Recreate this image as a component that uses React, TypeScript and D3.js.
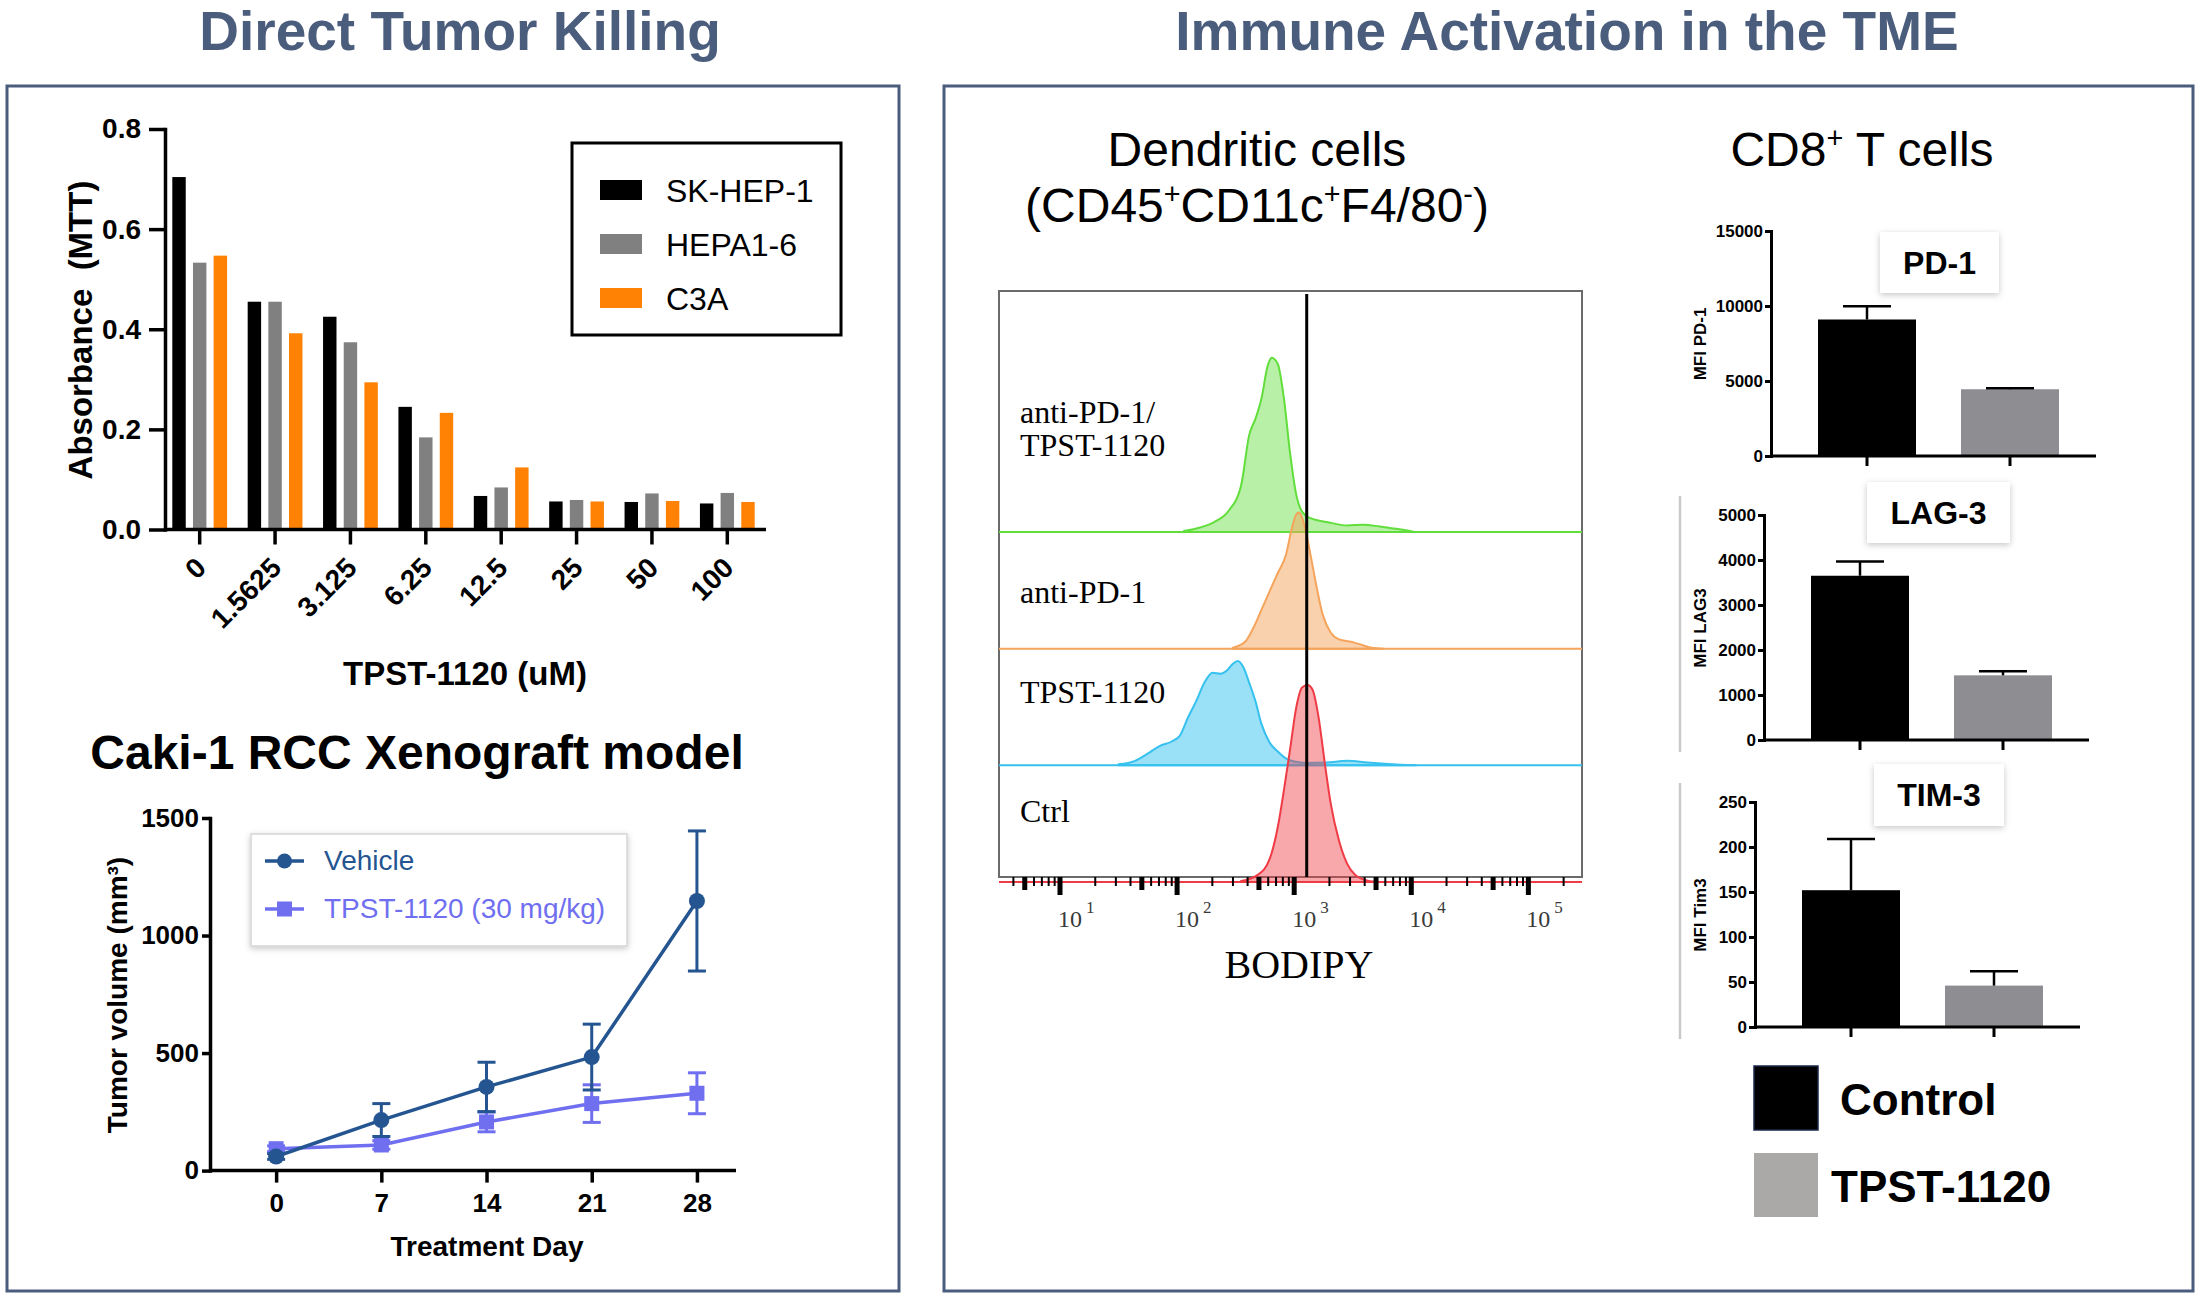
import React, { useEffect, useRef } from "react";
import * as d3 from "d3";

const W = 2200;
const H = 1299;
const SANS = "'Liberation Sans', Arial, Helvetica, sans-serif";
const SERIF = "'Liberation Serif', 'Times New Roman', serif";
const SLATE = "#4b5d7c";

// --- MTT assay (top left) ---
const concentrations = ["0", "1.5625", "3.125", "6.25", "12.5", "25", "50", "100"];
const cellLines = ["SK-HEP-1", "HEPA1-6", "C3A"];
const cellLineColors = ["#000000", "#808080", "#ff8205"];
const skHep1 = [0.704, 0.455, 0.425, 0.245, 0.067, 0.056, 0.055, 0.052];
const hepa16 = [0.533, 0.455, 0.374, 0.184, 0.084, 0.059, 0.072, 0.073];
const c3a = [0.547, 0.392, 0.294, 0.233, 0.124, 0.056, 0.057, 0.055];
const mttTicks = [0, 0.2, 0.4, 0.6, 0.8];

// --- Caki-1 xenograft (bottom left) ---
const days = [0, 7, 14, 21, 28];
const vehicleMean = [60, 215, 356, 483, 1147];
const vehicleSem = [12, 70, 105, 140, 298];
const tpstMean = [93, 109, 207, 285, 329];
const tpstSem = [12, 18, 42, 80, 87];
const volumeTicks = [0, 500, 1000, 1500];

// --- BODIPY histograms: [log10 intensity, normalised count] ---
const flowSamples = ["anti-PD-1/TPST-1120", "anti-PD-1", "TPST-1120", "Ctrl"];
const comboHist: [number, number][] = [
  [2.059, 0.5], [2.198, 2.3], [2.32, 5.1], [2.442, 10.9], [2.547, 23.7], [2.616, 49.3],
  [2.669, 57.4], [2.721, 67.9], [2.773, 84.2], [2.808, 88.4], [2.86, 85.3], [2.912, 67.9],
  [2.965, 40], [3.017, 19.1], [3.069, 10.2], [3.139, 7], [3.278, 5.1], [3.452, 3.3],
  [3.592, 3.7], [3.731, 2.8], [3.87, 1.6], [4.01, 0.2],
];
const antiPd1Hist: [number, number][] = [
  [2.477, 0.5], [2.581, 3.5], [2.651, 10.5], [2.721, 19.8], [2.79, 29.1], [2.86, 38.4],
  [2.93, 47.7], [2.982, 61.6], [3.017, 68.1], [3.041, 69.1], [3.087, 62.8], [3.139, 47.7],
  [3.191, 31.4], [3.243, 17.4], [3.313, 8.1], [3.383, 4.7], [3.487, 3.5], [3.557, 2.3],
  [3.661, 0.5], [3.766, 0],
];
const tpstHist: [number, number][] = [
  [1.501, 0.5], [1.641, 2.3], [1.745, 5.8], [1.85, 9.8], [1.954, 12.1], [2.024, 15.1],
  [2.094, 24.4], [2.163, 32.6], [2.233, 41.9], [2.303, 47], [2.372, 46.5], [2.425, 48.1],
  [2.477, 51.6], [2.519, 53], [2.564, 50], [2.616, 41.9], [2.669, 32.6], [2.721, 20.9],
  [2.79, 11.6], [2.86, 7], [2.93, 3.5], [3.0, 1.9], [3.104, 1.2], [3.278, 1.4],
  [3.452, 2.3], [3.627, 1.4], [3.801, 0.7], [4.045, 0],
];
const ctrlHist: [number, number][] = [
  [2.547, 0.5], [2.686, 3.5], [2.79, 11.6], [2.86, 27.9], [2.912, 46.5], [2.965, 67.4],
  [3.017, 88.4], [3.069, 98.8], [3.114, 100], [3.156, 97.7], [3.208, 83.7], [3.261, 60.5],
  [3.313, 39.5], [3.383, 20.9], [3.452, 9.3], [3.522, 3.5], [3.627, 0.7], [3.731, 0],
];
const flowStroke = ["#62de3c", "#f5a45c", "#36c1ef", "#ef3b45"];
const flowFill = ["rgba(98,222,60,0.45)", "rgba(245,164,92,0.5)", "rgba(54,193,239,0.5)", "rgba(239,59,69,0.45)"];
const bodipyGate = 3.107; // log10 position of the black reference line
const decades = [1, 2, 3, 4, 5];

// --- CD8+ T cell MFI bars (right) ---
const groups = ["Control", "TPST-1120"];
const groupColors = ["#000000", "#8e8d92"];
const pd1Mean = [9100, 4450];
const pd1Err = [890, 70];
const lag3Mean = [3650, 1437];
const lag3Err = [315, 90];
const tim3Mean = [152, 46];
const tim3Err = [57, 16];
const pd1Ticks = [0, 5000, 10000, 15000];
const lag3Ticks = [0, 1000, 2000, 3000, 4000, 5000];
const tim3Ticks = [0, 50, 100, 150, 200, 250];

function styleAxis(sel: any, fontSize: number, weight = "bold", width = 3.5) {
  sel.attr("font-family", SANS).attr("font-size", fontSize).attr("font-weight", weight);
  sel.selectAll("path.domain, .tick line").attr("stroke", "#000").attr("stroke-width", width);
  sel.select("path.domain").attr("stroke-linecap", "square");
  sel.selectAll(".tick text").attr("fill", "#000");
}

function drawMtt(svg: any) {
  const g = svg.append("g");
  const x = d3.scaleBand<string>().domain(concentrations).range([162, 765]);
  const xs = d3.scaleBand<string>().domain(cellLines).range([-31, 31]).paddingInner(0.35).paddingOuter(0.175);
  const y = d3.scaleLinear().domain([0, 0.8]).range([529.5, 129]);

  [skHep1, hepa16, c3a].forEach((vals, si) => {
    g.append("g")
      .selectAll("rect")
      .data(vals)
      .enter()
      .append("rect")
      .attr("x", (_d: number, i: number) => x(concentrations[i])! + x.bandwidth() / 2 + xs(cellLines[si])!)
      .attr("y", (d: number) => y(d))
      .attr("width", xs.bandwidth())
      .attr("height", (d: number) => y(0) - y(d))
      .attr("fill", cellLineColors[si]);
  });

  const ya = g.append("g").attr("transform", "translate(165,0)")
    .call(d3.axisLeft(y).tickValues(mttTicks).tickFormat(d3.format(".1f")).tickSize(16).tickPadding(8).tickSizeOuter(0));
  styleAxis(ya, 28);

  const xa = g.append("g").attr("transform", `translate(0,${y(0)})`)
    .call(d3.axisBottom(x).tickSize(15).tickSizeOuter(0));
  xa.select(".domain").remove();
  styleAxis(xa, 28);
  xa.selectAll(".tick text")
    .attr("x", 0).attr("y", 0).attr("dy", null)
    .attr("text-anchor", "end")
    .attr("transform", "translate(8,40) rotate(-45)");
  g.append("line").attr("x1", 165).attr("x2", 766).attr("y1", y(0)).attr("y2", y(0))
    .attr("stroke", "#000").attr("stroke-width", 3.5);

  g.append("text").attr("x", 465).attr("y", 685).attr("text-anchor", "middle")
    .attr("font-family", SANS).attr("font-weight", "bold").attr("font-size", 33).text("TPST-1120 (uM)");
  g.append("text").attr("transform", "translate(92,330) rotate(-90)").attr("text-anchor", "middle")
    .attr("font-family", SANS).attr("font-weight", "bold").attr("font-size", 33)
    .style("white-space", "pre").text("Absorbance  (MTT)");

  // legend
  g.append("rect").attr("x", 572).attr("y", 143).attr("width", 269).attr("height", 192)
    .attr("fill", "#fff").attr("stroke", "#000").attr("stroke-width", 3);
  const leg = g.selectAll("g.leg").data(cellLines).enter().append("g")
    .attr("transform", (_d: string, i: number) => `translate(600,${180 + i * 54})`);
  leg.append("rect").attr("width", 42).attr("height", 20).attr("fill", (_d: string, i: number) => cellLineColors[i]);
  leg.append("text").attr("x", 66).attr("y", 22).attr("font-family", SANS).attr("font-size", 32)
    .text((d: string) => d);
}

function drawXenograft(svg: any) {
  const g = svg.append("g");
  const x = d3.scaleLinear().domain([-4.4, 30.6]).range([210, 736]);
  const y = d3.scaleLinear().domain([0, 1500]).range([1170.6, 818]);

  g.append("text").attr("x", 417).attr("y", 769).attr("text-anchor", "middle")
    .attr("font-family", SANS).attr("font-weight", "bold").attr("font-size", 48).text("Caki-1 RCC Xenograft model");

  const ya = g.append("g").attr("transform", "translate(210,0)")
    .call(d3.axisLeft(y).tickValues(volumeTicks).tickFormat(d3.format("d")).tickSize(8).tickPadding(3).tickSizeOuter(0));
  styleAxis(ya, 26);
  const xa = g.append("g").attr("transform", `translate(0,${y(0)})`)
    .call(d3.axisBottom(x).tickValues(days).tickFormat(d3.format("d")).tickSize(12).tickPadding(11).tickSizeOuter(0));
  xa.select(".domain").remove();
  styleAxis(xa, 26);
  g.append("line").attr("x1", 210).attr("x2", 736).attr("y1", y(0)).attr("y2", y(0))
    .attr("stroke", "#000").attr("stroke-width", 3.5);

  g.append("text").attr("x", 487).attr("y", 1256).attr("text-anchor", "middle")
    .attr("font-family", SANS).attr("font-weight", "bold").attr("font-size", 28).text("Treatment Day");
  g.append("text").attr("transform", "translate(127,995) rotate(-90)").attr("text-anchor", "middle")
    .attr("font-family", SANS).attr("font-weight", "bold").attr("font-size", 28).text("Tumor volume (mm³)");

  const series = [
    { name: "TPST-1120 (30 mg/kg)", mean: tpstMean, sem: tpstSem, color: "#6f6ff0", shape: "square" },
    { name: "Vehicle", mean: vehicleMean, sem: vehicleSem, color: "#245591", shape: "circle" },
  ];
  const line = d3.line<number>().x((_d, i) => x(days[i])).y((d) => y(d));
  series.forEach((s) => {
    const sg = g.append("g");
    sg.append("path").attr("d", line(s.mean)).attr("fill", "none").attr("stroke", s.color).attr("stroke-width", 3.5);
    s.mean.forEach((m, i) => {
      const cx = x(days[i]);
      sg.append("line").attr("x1", cx).attr("x2", cx).attr("y1", y(m - s.sem[i])).attr("y2", y(m + s.sem[i]))
        .attr("stroke", s.color).attr("stroke-width", 3);
      [m - s.sem[i], m + s.sem[i]].forEach((v) => {
        sg.append("line").attr("x1", cx - 9).attr("x2", cx + 9).attr("y1", y(v)).attr("y2", y(v))
          .attr("stroke", s.color).attr("stroke-width", 3);
      });
      if (s.shape === "circle") {
        sg.append("circle").attr("cx", cx).attr("cy", y(m)).attr("r", 8).attr("fill", s.color);
      } else {
        sg.append("rect").attr("x", cx - 7.5).attr("y", y(m) - 7.5).attr("width", 15).attr("height", 15).attr("fill", s.color);
      }
    });
  });

  // legend
  g.append("rect").attr("x", 251).attr("y", 834).attr("width", 376).attr("height", 112)
    .attr("fill", "#fff").attr("stroke", "#d6d6d6").attr("stroke-width", 1.5).attr("filter", "url(#shadow)");
  const entries = [series[1], series[0]];
  entries.forEach((s, i) => {
    const ly = 861 + i * 48;
    g.append("line").attr("x1", 265).attr("x2", 304).attr("y1", ly).attr("y2", ly).attr("stroke", s.color).attr("stroke-width", 3.5);
    if (s.shape === "circle") g.append("circle").attr("cx", 284.5).attr("cy", ly).attr("r", 7.5).attr("fill", s.color);
    else g.append("rect").attr("x", 277).attr("y", ly - 7.5).attr("width", 15).attr("height", 15).attr("fill", s.color);
    g.append("text").attr("x", 324).attr("y", ly + 9).attr("font-family", SANS).attr("font-size", 28)
      .attr("fill", s.color).text(s.name);
  });
}

function drawFlow(svg: any) {
  const g = svg.append("g");
  const left = 999, right = 1582, top = 291, bottom = 877;
  const xLog = d3.scaleLog().domain([Math.pow(10, 0.479), Math.pow(10, 5.458)]).range([left, right]);
  const hY = d3.scaleLinear().domain([0, 100]).range([0, 197]);
  const rowY = d3.scaleLinear().domain([0, 3]).range([532, 882]);

  g.append("rect").attr("x", left).attr("y", top).attr("width", right - left).attr("height", bottom - top)
    .attr("fill", "#fff").attr("stroke", "#6b6b6b").attr("stroke-width", 2);

  const hists = [comboHist, antiPd1Hist, tpstHist, ctrlHist];
  hists.forEach((data, i) => {
    const base = rowY(i);
    g.append("line").attr("x1", left).attr("x2", right).attr("y1", base).attr("y2", base)
      .attr("stroke", flowStroke[i]).attr("stroke-width", 2);
    const area = d3.area<[number, number]>()
      .x((d) => xLog(Math.pow(10, d[0])))
      .y0(base)
      .y1((d) => base - hY(d[1]))
      .curve(d3.curveMonotoneX);
    g.append("path").datum(data).attr("d", area).attr("fill", flowFill[i])
      .attr("stroke", flowStroke[i]).attr("stroke-width", 2);
  });

  const gx = xLog(Math.pow(10, bodipyGate));
  g.append("line").attr("x1", gx).attr("x2", gx).attr("y1", top + 3).attr("y2", bottom)
    .attr("stroke", "#000").attr("stroke-width", 3);

  // log ticks
  const tickVals: number[] = [];
  for (let dec = 0; dec <= 5; dec++) {
    for (let m = 1; m <= 9; m++) {
      const v = m * Math.pow(10, dec);
      if (v >= xLog.domain()[0] && v <= xLog.domain()[1]) tickVals.push(v);
    }
  }
  tickVals.forEach((v) => {
    const lead = Math.round(v / Math.pow(10, Math.floor(Math.log10(v) + 1e-9)));
    const len = lead === 1 ? 18 : lead === 5 ? 13 : 9;
    const wdt = lead === 1 || lead === 5 ? 5 : 2;
    g.append("line").attr("x1", xLog(v)).attr("x2", xLog(v)).attr("y1", bottom).attr("y2", bottom + len)
      .attr("stroke", "#000").attr("stroke-width", wdt);
  });

  decades.forEach((dec) => {
    const t = g.append("text").attr("x", xLog(Math.pow(10, dec)) - 2).attr("y", 927)
      .attr("font-family", SERIF).attr("font-size", 24).attr("fill", "#3a3a3a");
    t.append("tspan").text("10");
    t.append("tspan").attr("dx", 4).attr("dy", -14).attr("font-size", 17).text(String(dec));
  });

  g.append("text").attr("x", 1299).attr("y", 978).attr("text-anchor", "middle")
    .attr("font-family", SERIF).attr("font-size", 40).text("BODIPY");

  const labels: [string, number][] = [["anti-PD-1/", 423], ["TPST-1120", 456], ["anti-PD-1", 603], ["TPST-1120", 703], ["Ctrl", 822]];
  labels.forEach(([txt, ly]) => {
    g.append("text").attr("x", 1020).attr("y", ly).attr("font-family", SERIF).attr("font-size", 32).text(txt);
  });
  void flowSamples;
}

function drawMfi(svg: any, p: any) {
  const g = svg.append("g");
  const y = d3.scaleLinear().domain([0, p.ticks[p.ticks.length - 1]]).range([p.y0, p.y0 - 225]);
  const x = d3.scalePoint<string>().domain(groups).range([p.axisX + 96, p.axisX + 239]);
  const bw = 98;

  if (p.separator) {
    g.append("line").attr("x1", 1680).attr("x2", 1680).attr("y1", p.y0 - 244).attr("y2", p.y0 + 12)
      .attr("stroke", "#c9c9c9").attr("stroke-width", 2.5);
  }

  g.selectAll("rect.bar").data(p.mean).enter().append("rect")
    .attr("x", (_d: number, i: number) => x(groups[i])! - bw / 2)
    .attr("y", (d: number) => y(d))
    .attr("width", bw)
    .attr("height", (d: number) => p.y0 - y(d))
    .attr("fill", (_d: number, i: number) => groupColors[i]);

  p.mean.forEach((m: number, i: number) => {
    const cx = x(groups[i])!;
    g.append("line").attr("x1", cx).attr("x2", cx).attr("y1", y(m)).attr("y2", y(m + p.err[i]))
      .attr("stroke", "#000").attr("stroke-width", 2.5);
    g.append("line").attr("x1", cx - 24).attr("x2", cx + 24).attr("y1", y(m + p.err[i])).attr("y2", y(m + p.err[i]))
      .attr("stroke", "#000").attr("stroke-width", 2.5);
    g.append("line").attr("x1", cx).attr("x2", cx).attr("y1", p.y0).attr("y2", p.y0 + 10)
      .attr("stroke", "#000").attr("stroke-width", 3);
  });

  const ya = g.append("g").attr("transform", `translate(${p.axisX},0)`)
    .call(d3.axisLeft(y).tickValues(p.ticks).tickFormat(d3.format("d")).tickSize(6).tickPadding(2).tickSizeOuter(0));
  styleAxis(ya, 17, "bold", 3);
  g.append("line").attr("x1", p.axisX).attr("x2", p.axisX + 325).attr("y1", p.y0).attr("y2", p.y0)
    .attr("stroke", "#000").attr("stroke-width", 3);

  g.append("text").attr("transform", `translate(1706,${p.y0 - 112}) rotate(-90)`).attr("text-anchor", "middle")
    .attr("font-family", SANS).attr("font-weight", "bold").attr("font-size", 17).text(p.label);

  g.append("rect").attr("x", p.box[0]).attr("y", p.box[1]).attr("width", p.box[2]).attr("height", p.box[3])
    .attr("fill", "#fff").attr("filter", "url(#shadow)");
  g.append("text").attr("x", p.box[0] + p.box[2] / 2).attr("y", p.box[1] + 42).attr("text-anchor", "middle")
    .attr("font-family", SANS).attr("font-weight", "bold").attr("font-size", 32).text(p.title);
}

function supText(svg: any, x: number, y: number, size: number, parts: [string, boolean][]) {
  const t = svg.append("text").attr("x", x).attr("y", y).attr("text-anchor", "middle")
    .attr("font-family", SANS).attr("font-size", size);
  let raised = false;
  parts.forEach(([s, sup]) => {
    const ts = t.append("tspan").text(s);
    if (sup && !raised) { ts.attr("dy", -size * 0.38).attr("font-size", size * 0.6); raised = true; }
    else if (sup) ts.attr("font-size", size * 0.6);
    else if (raised) { ts.attr("dy", size * 0.38); raised = false; }
  });
}

export default function App() {
  const ref = useRef<SVGSVGElement>(null);

  useEffect(() => {
    if (!ref.current) return;
    const svg = d3.select(ref.current);
    svg.selectAll("*").remove();

    const defs = svg.append("defs");
    const f = defs.append("filter").attr("id", "shadow").attr("x", "-20%").attr("y", "-20%")
      .attr("width", "140%").attr("height", "150%");
    f.append("feDropShadow").attr("dx", 0).attr("dy", 2).attr("stdDeviation", 3)
      .attr("flood-color", "#000").attr("flood-opacity", 0.22);

    svg.append("rect").attr("width", W).attr("height", H).attr("fill", "#fff");

    // section titles and panel frames
    svg.append("text").attr("x", 460).attr("y", 50).attr("text-anchor", "middle")
      .attr("font-family", SANS).attr("font-weight", "bold").attr("font-size", 55).attr("fill", SLATE)
      .text("Direct Tumor Killing");
    svg.append("text").attr("x", 1567).attr("y", 50).attr("text-anchor", "middle")
      .attr("font-family", SANS).attr("font-weight", "bold").attr("font-size", 55).attr("fill", SLATE)
      .text("Immune Activation in the TME");
    svg.append("rect").attr("x", 7).attr("y", 86).attr("width", 892).attr("height", 1205)
      .attr("fill", "none").attr("stroke", SLATE).attr("stroke-width", 3);
    svg.append("rect").attr("x", 944).attr("y", 86).attr("width", 1249).attr("height", 1205)
      .attr("fill", "none").attr("stroke", SLATE).attr("stroke-width", 3);

    drawMtt(svg);
    drawXenograft(svg);

    svg.append("text").attr("x", 1257).attr("y", 166).attr("text-anchor", "middle")
      .attr("font-family", SANS).attr("font-size", 48).text("Dendritic cells");
    supText(svg, 1257, 222, 48, [["(CD45", false], ["+", true], ["CD11c", false], ["+", true], ["F4/80", false], ["-", true], [")", false]]);
    supText(svg, 1862, 166, 48, [["CD8", false], ["+", true], [" T cells", false]]);

    drawFlow(svg);

    const panels = [
      { title: "PD-1", label: "MFI PD-1", mean: pd1Mean, err: pd1Err, ticks: pd1Ticks, axisX: 1771, y0: 456, box: [1880, 232, 119, 61], separator: false },
      { title: "LAG-3", label: "MFI LAG3", mean: lag3Mean, err: lag3Err, ticks: lag3Ticks, axisX: 1764, y0: 740, box: [1867, 482, 143, 61], separator: true },
      { title: "TIM-3", label: "MFI Tim3", mean: tim3Mean, err: tim3Err, ticks: tim3Ticks, axisX: 1755, y0: 1027, box: [1874, 764, 130, 62], separator: true },
    ];
    panels.forEach((p) => drawMfi(svg, p));

    // group legend
    const legendColors = ["#000000", "#aba8a8"];
    groups.forEach((name, i) => {
      const ly = 1066 + i * 87;
      svg.append("rect").attr("x", 1754).attr("y", ly).attr("width", 64).attr("height", 64)
        .attr("fill", legendColors[i]).attr("stroke", i === 0 ? "#1b2a4a" : "none").attr("stroke-width", 1.5);
      svg.append("text").attr("x", i === 0 ? 1840 : 1831).attr("y", ly + 49)
        .attr("font-family", SANS).attr("font-weight", "bold").attr("font-size", 44).text(name);
    });
  }, []);

  return (
    <div style={{ position: "absolute", left: 0, top: 0 }}>
      <svg ref={ref} width={W} height={H} />
    </div>
  );
}
